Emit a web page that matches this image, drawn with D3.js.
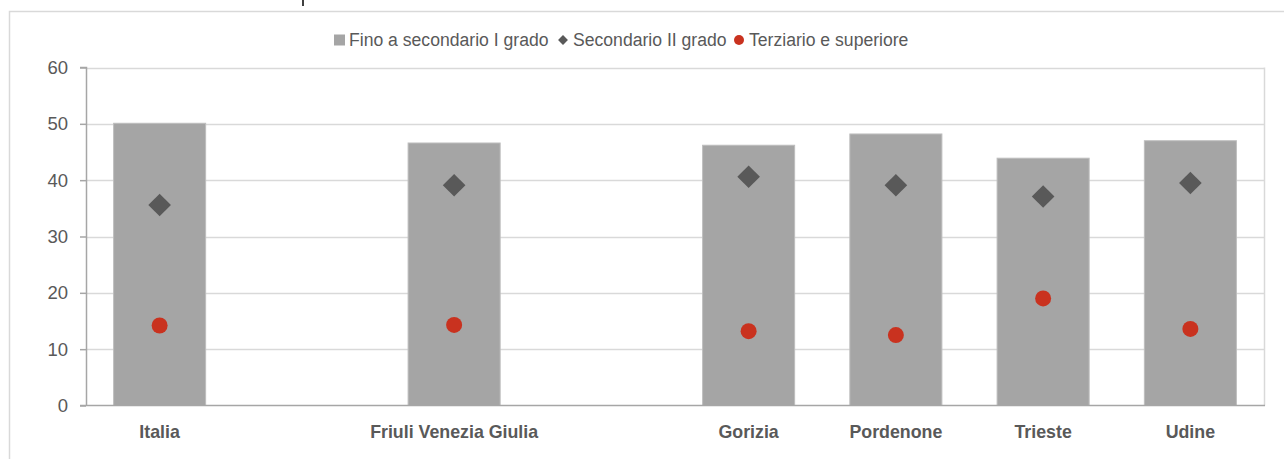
<!DOCTYPE html>
<html>
<head>
<meta charset="utf-8">
<script src="https://cdn.jsdelivr.net/npm/d3@7"></script>
<style>
  html, body { margin: 0; padding: 0; background: #fff; }
  svg { display: block; font-family: "Liberation Sans", Arial, sans-serif; }
</style>
</head>
<body>
<svg id="chart" width="1284" height="459"></svg>
<script>
// ---- Data ----
const categories = ["Italia", "", "Friuli Venezia Giulia", "", "Gorizia", "Pordenone", "Trieste", "Udine"];
const finoSecondarioI = [50.1, null, 46.6, null, 46.2, 48.2, 43.9, 47.0];
const secondarioII   = [35.6, null, 39.1, null, 40.6, 39.1, 37.1, 39.5];
const terziario      = [14.2, null, 14.3, null, 13.2, 12.5, 19.0, 13.6];
const yTicks = [0, 10, 20, 30, 40, 50, 60];
const seriesNames = ["Fino a secondario I grado", "Secondario II grado", "Terziario e superiore"];

(function () {
// ---- Layout ----
const svg = d3.select("#chart");
const mLeft = 86, mRight = 1264, mTop = 67.5, mBottom = 405.5;
const textColor = "#595959";
const gridColor = "#d9d9d9";
const axisColor = "#a6a6a6";
const barColor = "#a5a5a5";
const diamondColor = "#595959";
const circleColor = "#c9321f";

const idx = categories.map((d, i) => i);
const x = d3.scaleBand().domain(idx).range([mLeft, mRight]).paddingInner(0.375).paddingOuter(0.1875);
const y = d3.scaleLinear().domain([0, 60]).range([mBottom, mTop]);

// outer frame
svg.append("path")
  .attr("d", `M9.5,459 L9.5,11.5 L1284,11.5`)
  .attr("fill", "none").attr("stroke", "#d9d9d9").attr("stroke-width", 1.5);

// descender of a title cut off above the picture
svg.append("rect").attr("x", 302).attr("y", 0).attr("width", 2).attr("height", 6).attr("fill", "#404040");

// gridlines
svg.append("g").selectAll("line").data(yTicks.filter(t => t > 0)).join("line")
  .attr("x1", mLeft).attr("x2", mRight)
  .attr("y1", d => Math.round(y(d)) + 0.5).attr("y2", d => Math.round(y(d)) + 0.5)
  .attr("stroke", gridColor).attr("stroke-width", 1.5);

// right border of plot area
svg.append("line").attr("x1", mRight + 0.5).attr("x2", mRight + 0.5)
  .attr("y1", y(60)).attr("y2", mBottom)
  .attr("stroke", gridColor).attr("stroke-width", 1.5);

// bars
svg.append("g").selectAll("rect")
  .data(idx.filter(i => finoSecondarioI[i] != null)).join("rect")
  .attr("x", i => x(i)).attr("width", x.bandwidth())
  .attr("y", i => y(finoSecondarioI[i])).attr("height", i => mBottom - y(finoSecondarioI[i]))
  .attr("fill", barColor).attr("stroke", "#bdbdbd").attr("stroke-width", 1);

// y axis
const yAxis = d3.axisLeft(y).tickValues(yTicks).tickSize(6).tickPadding(12).tickFormat(d3.format("d"));
const gy = svg.append("g").attr("transform", `translate(${mLeft},0)`).call(yAxis);
gy.select(".domain").attr("stroke", axisColor).attr("stroke-width", 1.5).attr("d", `M-6,${y(60)}H0.5V${mBottom}`);
gy.selectAll(".tick line").attr("stroke", axisColor).attr("stroke-width", 1.5);
gy.selectAll(".tick text").attr("fill", textColor).attr("font-size", 18.5)
  .attr("font-family", "'Liberation Sans', Arial, sans-serif");

// x axis
const xAxis = d3.axisBottom(x).tickSize(0).tickPadding(20).tickFormat(i => categories[i]);
const gx = svg.append("g").attr("transform", `translate(0,${mBottom})`).call(xAxis);
gx.select(".domain").attr("stroke", axisColor).attr("stroke-width", 1.5).attr("d", `M${mLeft - 6},0H${mRight + 1}`);
gx.selectAll(".tick text").attr("fill", textColor).attr("font-size", 17.8).attr("font-weight", "bold")
  .attr("font-family", "'Liberation Sans', Arial, sans-serif");

// diamonds
const diamond = d3.symbol().type(d3.symbolSquare).size(16 * 16);
svg.append("g").selectAll("path")
  .data(idx.filter(i => secondarioII[i] != null)).join("path")
  .attr("d", diamond)
  .attr("transform", i => `translate(${x(i) + x.bandwidth() / 2},${y(secondarioII[i])}) rotate(45)`)
  .attr("fill", diamondColor);

// circles
svg.append("g").selectAll("circle")
  .data(idx.filter(i => terziario[i] != null)).join("circle")
  .attr("cx", i => x(i) + x.bandwidth() / 2).attr("cy", i => y(terziario[i]))
  .attr("r", 8).attr("fill", circleColor);

// legend
const lg = svg.append("g").attr("font-size", 17.6).attr("fill", textColor);
const ly = 40;
lg.append("rect").attr("x", 334).attr("y", ly - 5.5).attr("width", 11).attr("height", 11).attr("fill", barColor);
lg.append("text").attr("x", 349).attr("y", ly).attr("dy", "0.35em").attr("fill", textColor).text(seriesNames[0]);
lg.append("path").attr("d", d3.symbol().type(d3.symbolSquare).size(7 * 7))
  .attr("transform", `translate(563,${ly}) rotate(45)`).attr("fill", diamondColor);
lg.append("text").attr("x", 573).attr("y", ly).attr("dy", "0.35em").attr("fill", textColor).text(seriesNames[1]);
lg.append("circle").attr("cx", 739).attr("cy", ly).attr("r", 5).attr("fill", circleColor);
lg.append("text").attr("x", 749).attr("y", ly).attr("dy", "0.35em").attr("fill", textColor).text(seriesNames[2]);
})();
</script>
</body>
</html>
